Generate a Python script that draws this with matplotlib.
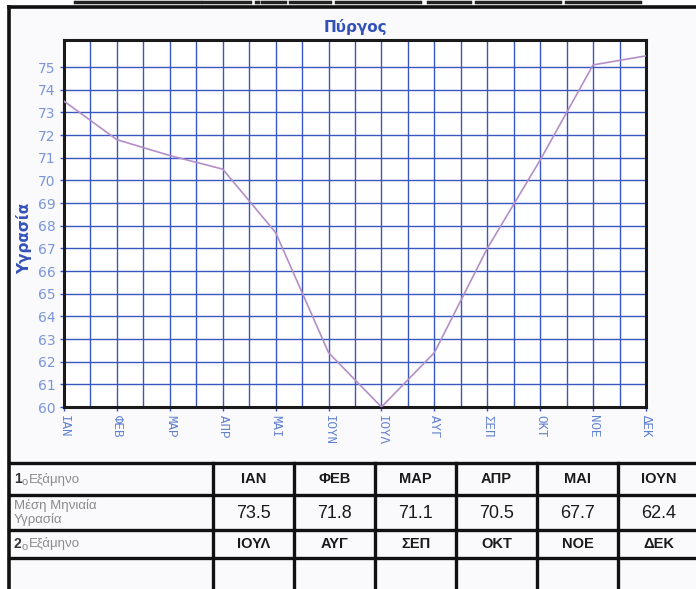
import matplotlib
matplotlib.use('Agg')
import matplotlib.pyplot as plt
import numpy as np

W, H = 696, 589

# μήνες και μέση μηνιαία υγρασία (Πύργος)
months_axis = ['ΙΑΝ', 'ΦΕΒ', 'ΜΑΡ', 'ΑΠΡ', 'ΜΑΙ', 'ΙΟΥΝ',
               'ΙΟΥΛ', 'ΑΥΓ', 'ΣΕΠ', 'ΟΚΤ', 'ΝΟΕ', 'ΔΕΚ']
humidity = [73.5, 71.8, 71.1, 70.5, 67.7, 62.4,
            60.0, 62.4, 67.0, 70.9, 75.1, 75.5]
yticks = list(range(60, 76))

# πίνακας
row1_head = ['ΙΑΝ', 'ΦΕΒ', 'ΜΑΡ', 'ΑΠΡ', 'ΜΑΙ', 'ΙΟΥΝ']
row1_vals = ['73.5', '71.8', '71.1', '70.5', '67.7', '62.4']
row2_head = ['ΙΟΥΛ', 'ΑΥΓ', 'ΣΕΠ', 'ΟΚΤ', 'ΝΟΕ', 'ΔΕΚ']

BLUE_GRID = '#3a56c0'
BLUE_TXT = '#7a95d8'
BLUE_TITLE = '#3352b8'
LINE_C = '#b48ec8'

fig = plt.figure(figsize=(W / 100, H / 100), dpi=100, facecolor='white')

# φόντο σε pixel συντεταγμένες
bg = fig.add_axes([0, 0, 1, 1])
bg.set_xlim(0, W)
bg.set_ylim(H, 0)
bg.axis('off')
bg.add_patch(plt.Rectangle((9, 7), W, H, facecolor='#fafafc', edgecolor='none'))

def L(xa, ya, xb, yb, lw=2.4, c='#111111'):
    bg.plot([xa, xb], [ya, yb], color=c, lw=lw, solid_capstyle='projecting')

# κομμένη επικεφαλίδα στο πάνω μέρος
for xa, xb in [(75, 200), (203, 250), (256, 258), (262, 285), (290, 330),
               (336, 420), (428, 470), (476, 560), (566, 640)]:
    L(xa, 1.5, xb, 1.5, lw=2.5, c='#222222')

# πλαίσιο σελίδας
L(9, 7, W + 5, 7, lw=2.6)
L(9, 7, 9, H + 5, lw=2.6)

# ── Γράφημα ──────────────────────────────────────────────────────────────────
x0, x1, y0, y1 = 64, 646, 40, 407
ax = fig.add_axes([x0 / W, 1 - y1 / H, (x1 - x0) / W, (y1 - y0) / H])
ax.set_facecolor('white')
xs = np.arange(len(months_axis))
ax.set_xlim(0, len(months_axis) - 1)
ax.set_ylim(60, 76.2)

ax.set_yticks(yticks)
ax.set_yticklabels([str(t) for t in yticks], color=BLUE_TXT, fontsize=10,
                   family='DejaVu Sans')
ax.set_xticks(xs)
ax.set_xticklabels(months_axis, rotation=270, color='#5f7fd0', fontsize=9,
                   family='Liberation Mono', va='top', ha='center')
ax.set_xticks(np.arange(0.5, len(months_axis) - 1, 1.0), minor=True)
ax.tick_params(axis='both', which='major', length=3, width=1, color=BLUE_GRID, pad=3)
ax.tick_params(axis='x', which='minor', length=0)

ax.grid(True, which='both', axis='x', color=BLUE_GRID, lw=1.0)
ax.grid(True, which='major', axis='y', color=BLUE_GRID, lw=1.0)
ax.set_axisbelow(True)

ax.plot(xs, humidity, color=LINE_C, lw=1.2, zorder=3)

for s in ax.spines.values():
    s.set_color('#1a1a1a')
    s.set_linewidth(2.2)

ax.set_title('Πύργος', color=BLUE_TITLE, fontsize=11, fontweight='bold', pad=6)
ax.set_ylabel('Υγρασία', color=BLUE_TITLE, fontsize=11, fontweight='bold')
ax.yaxis.set_label_coords(-0.054, 0.46)

# ── Πίνακας ──────────────────────────────────────────────────────────────────
rows_y = [463, 495, 530, 558, H + 5]
cols_x = [9, 213, 294, 375, 456, 537, 618, 699]

for y in rows_y[:-1]:
    L(9, y, W + 5, y)
for x in cols_x[1:]:
    L(x, rows_y[0], x, H + 5)

def centers(i):
    return (cols_x[i + 1] + cols_x[i + 2]) / 2

mid1 = (rows_y[0] + rows_y[1]) / 2
mid2 = (rows_y[1] + rows_y[2]) / 2
mid3 = (rows_y[2] + rows_y[3]) / 2

for i, (h, v, h2) in enumerate(zip(row1_head, row1_vals, row2_head)):
    bg.text(centers(i), mid1, h, ha='center', va='center', fontsize=10.5,
            fontweight='bold', family='Liberation Sans', color='#1a1a1a')
    bg.text(centers(i), mid2 + 1, v, ha='center', va='center', fontsize=13,
            family='Liberation Sans', color='#1a1a1a')
    bg.text(centers(i), mid3, h2, ha='center', va='center', fontsize=10.5,
            fontweight='bold', family='Liberation Sans', color='#1a1a1a')

GRAY = '#8a8a8a'
for num, ym in [('1', mid1), ('2', mid3)]:
    bg.text(14, ym, num, ha='left', va='center', fontsize=10, fontweight='bold',
            family='Liberation Sans', color='#333333')
    bg.text(21, ym + 3, 'ο', ha='left', va='center', fontsize=8,
            family='Liberation Sans', color=GRAY)
    bg.text(29, ym, 'Εξάμηνο', ha='left', va='center', fontsize=9.5,
            family='Liberation Sans', color=GRAY)
bg.text(14, mid2, 'Μέση Μηνιαία\nΥγρασία', ha='left', va='center', fontsize=9.5,
        family='Liberation Sans', color=GRAY, linespacing=1.1)

fig.savefig('out.png', dpi=100, facecolor='white')
